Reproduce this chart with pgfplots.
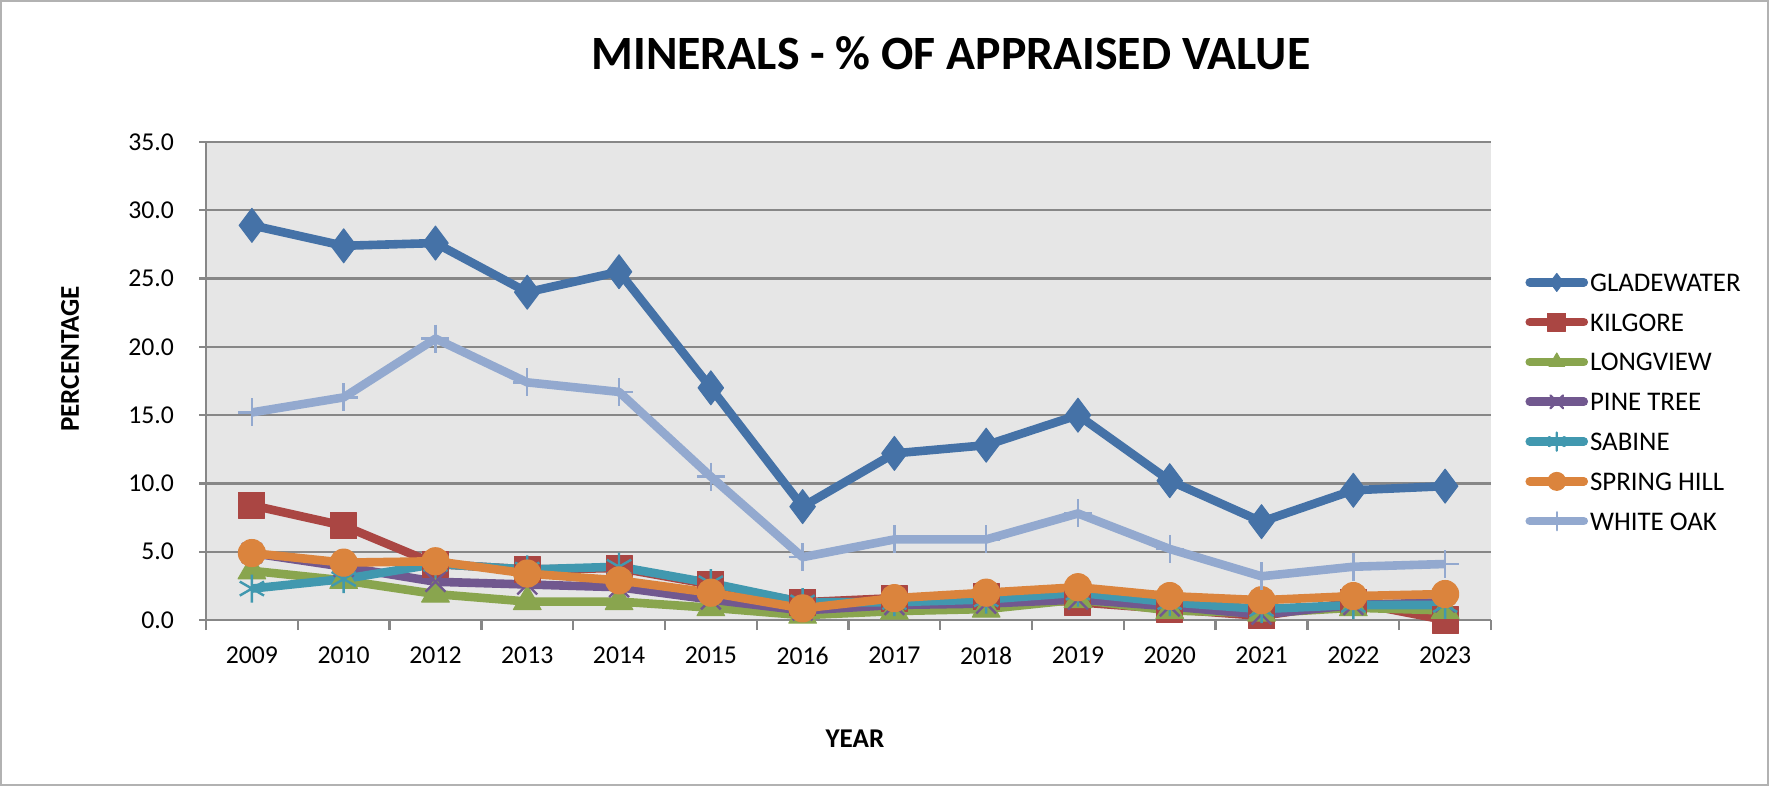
\documentclass[border=0pt]{standalone}
\usepackage{pgfplots}
\pgfplotsset{compat=1.18}
\usepackage{fontspec}
\setmainfont{Carlito}
\definecolor{cGlade}{HTML}{4572A7}
\definecolor{cKil}{HTML}{AA4643}
\definecolor{cLong}{HTML}{89A54E}
\definecolor{cPine}{HTML}{71588F}
\definecolor{cSab}{HTML}{4198AF}
\definecolor{cSpring}{HTML}{DB843D}
\definecolor{cWhite}{HTML}{93A9CF}
\definecolor{plotbg}{HTML}{E6E6E6}
\definecolor{gridc}{HTML}{878787}
\begin{document}
\begin{tikzpicture}
\useasboundingbox (0,0) rectangle (884.5bp,393bp);
\draw[gray!60, line width=0.8bp] (0.5bp,0.5bp) rectangle (884bp,392.5bp);
\node[font=\fontsize{24}{28}\selectfont\bfseries] at (475.5bp,366.5bp) {MINERALS - \% OF APPRAISED VALUE};
\begin{axis}[
  at={(103bp,83bp)}, anchor=south west,
  scale only axis, width=642.5bp, height=239bp,
  xmin=-0.5, xmax=13.5, ymin=0, ymax=35,
  clip=false,
  axis background/.style={fill=plotbg},
  axis x line*=bottom, axis y line*=left,
  x axis line style={-, gridc, line width=1.2bp},
  y axis line style={-, gridc, line width=1.2bp},
  xtick={0,...,13},
  xticklabels={2009,2010,2012,2013,2014,2015,2016,2017,2018,2019,2020,2021,2022,2023},
  major x tick style={draw=none},
  minor xtick={-0.5,0.5,...,13.5},
  minor x tick style={gridc, line width=1.2bp},
  minor tick length=5bp,
  ytick={0,5,...,35},
  major y tick style={gridc, line width=1.2bp},
  major tick length=3.5bp,
  tick align=outside,
  ymajorgrids,
  grid style={gridc, line width=1.2bp},
  /pgf/number format/.cd, fixed, fixed zerofill, precision=1, assume math mode=true, /pgfplots/.cd,
  ticklabel style={font=\fontsize{12.9}{15}\selectfont},
  xticklabel style={yshift=-6.5bp},
  yticklabel style={xshift=-9bp},
  xlabel={YEAR}, ylabel={PERCENTAGE},
  label style={font=\fontsize{13.6}{16}\selectfont\bfseries},
  xlabel style={at={(axis description cs:0.505,-0.249)}, anchor=center},
  ylabel style={at={(axis description cs:-0.1058,0.546)}, anchor=center, rotate=0},
  legend style={at={(axis description cs:1.0265,0.7427)}, anchor=north west, draw=none, fill=none,
    font=\fontsize{13.5}{15}\selectfont, row sep=2.9bp, inner sep=0pt,
    nodes={inner sep=1bp, text height=12bp, text depth=3bp, anchor=west}},
  legend cell align=left,
  legend image code/.code={\draw[mark repeat=2, mark phase=2, line cap=round, mark size=4.5bp] plot coordinates {(0bp,0bp)(13.5bp,0bp)(27bp,0bp)};},
  every axis plot/.append style={line width=4.3bp, line join=round},
]
\addplot[cGlade, mark=diamond*, mark size=8.5bp, mark options={solid, line width=0.5bp}] coordinates {
(0,28.9)(1,27.4)(2,27.6)(3,24.0)(4,25.5)(5,17.0)(6,8.3)(7,12.2)(8,12.8)(9,15.0)(10,10.2)(11,7.2)(12,9.5)(13,9.8)};
\addlegendentry{GLADEWATER}
\addplot[cKil, mark=square*, mark size=6.5bp, mark options={solid, line width=0.5bp}] coordinates {
(0,8.4)(1,6.9)(2,4.1)(3,3.7)(4,3.8)(5,2.6)(6,1.3)(7,1.6)(8,1.7)(9,1.3)(10,0.8)(11,0.3)(12,1.3)(13,0.0)};
\addlegendentry{KILGORE}
\addplot[cLong, mark=triangle*, mark size=8bp, mark options={solid, line width=0.5bp}] coordinates {
(0,3.6)(1,2.9)(2,1.9)(3,1.35)(4,1.35)(5,0.9)(6,0.35)(7,0.65)(8,0.8)(9,1.5)(10,0.7)(11,0.5)(12,0.9)(13,0.7)};
\addlegendentry{LONGVIEW}
\addplot[cPine, mark=x, mark size=7bp, mark options={solid, line width=1.2bp}] coordinates {
(0,4.9)(1,3.9)(2,2.8)(3,2.6)(4,2.4)(5,1.5)(6,0.7)(7,1.1)(8,1.2)(9,1.5)(10,1.0)(11,0.4)(12,1.1)(13,1.3)};
\addlegendentry{PINE TREE}
\addplot[cSab, mark=asterisk, mark size=7bp, mark options={solid, line width=1.2bp}] coordinates {
(0,2.3)(1,3.0)(2,4.1)(3,3.7)(4,3.9)(5,2.7)(6,1.3)(7,1.3)(8,1.5)(9,2.0)(10,1.3)(11,0.8)(12,1.1)(13,1.1)};
\addlegendentry{SABINE}
\addplot[cSpring, mark=*, mark size=6.8bp, mark options={solid, line width=0.5bp}] coordinates {
(0,4.9)(1,4.2)(2,4.3)(3,3.4)(4,2.9)(5,2.0)(6,0.85)(7,1.6)(8,2.0)(9,2.4)(10,1.75)(11,1.45)(12,1.75)(13,1.9)};
\addlegendentry{SPRING HILL}
\addplot[cWhite, mark=+, mark size=7bp, mark options={solid, line width=1.2bp}] coordinates {
(0,15.2)(1,16.3)(2,20.6)(3,17.4)(4,16.7)(5,10.5)(6,4.6)(7,5.9)(8,5.9)(9,7.8)(10,5.2)(11,3.2)(12,3.9)(13,4.1)};
\addlegendentry{WHITE OAK}
\end{axis}
\end{tikzpicture}
\end{document}
